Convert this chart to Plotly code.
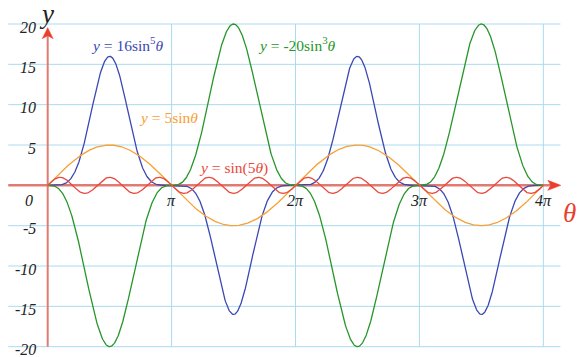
import numpy as np
import plotly.graph_objects as go

# ---- data: the four plotted functions y = A * sin(f*theta)^p ----
series_names = ["16sin5", "-20sin3", "5sin", "sin5"]
amplitudes = [16, -20, 5, 1]
powers = [5, 3, 1, 1]
frequencies = [1, 1, 1, 5]
colors = ["#3a48b4", "#27962a", "#f7a035", "#e8483c"]
label_texts = [
    "<i>y</i> = 16sin<sup>5</sup><i>θ</i>",
    "<i>y</i> = -20sin<sup>3</sup><i>θ</i>",
    "<i>y</i> = 5sin<i>θ</i>",
    "<i>y</i> = sin(5<i>θ</i>)",
]
label_x = [2.01, 6.32, 3.05, 4.72]
label_y = [17.5, 17.5, 8.4, 2.1]

y_ticks = [20, 15, 10, 5, -5, -10, -15, -20]
x_ticks = [np.pi, 2 * np.pi, 3 * np.pi, 4 * np.pi]
x_tick_labels = ["π", "2π", "3π", "4π"]

theta = np.linspace(0, 4 * np.pi, 1200)

fig = go.Figure()

GRID = "#a9dbee"
AXIS = "#e07a72"
ARROW = "#ea3f2b"
SERIF = "Liberation Serif, Times New Roman, serif"

shapes = []
# horizontal grid lines
for v in y_ticks:
    shapes.append(dict(type="line", xref="x", yref="y", x0=-1.0, x1=13.0, y0=v, y1=v,
                       line=dict(color=GRID, width=1), layer="below"))
# vertical grid lines
for v in x_ticks:
    shapes.append(dict(type="line", xref="x", yref="y", x0=v, x1=v, y0=-20, y1=20,
                       line=dict(color=GRID, width=1), layer="below"))
# axes
shapes.append(dict(type="line", xref="x", yref="y", x0=-1.0, x1=12.85, y0=0, y1=0,
                   line=dict(color=AXIS, width=2.5), layer="below"))
shapes.append(dict(type="line", xref="x", yref="y", x0=0, x1=0, y0=-20, y1=19.0,
                   line=dict(color=AXIS, width=2), layer="below"))
# arrow heads
shapes.append(dict(type="path", xref="x", yref="y", xsizemode="pixel", ysizemode="pixel",
                   xanchor=13.01, yanchor=0,
                   path="M0,0 L-13,5 L-10,0 L-13,-5 Z",
                   fillcolor=ARROW, line=dict(color=ARROW, width=0.5)))
shapes.append(dict(type="path", xref="x", yref="y", xsizemode="pixel", ysizemode="pixel",
                   xanchor=0, yanchor=19.55,
                   path="M0,0 L5.5,-11 L0,-8 L-5.5,-11 Z",
                   fillcolor=ARROW, line=dict(color=ARROW, width=0.5)))

for i in range(len(series_names)):
    y = amplitudes[i] * np.sin(frequencies[i] * theta) ** powers[i]
    fig.add_trace(go.Scatter(x=theta, y=y, mode="lines", name=series_names[i],
                             line=dict(color=colors[i], width=1.3),
                             cliponaxis=False, hoverinfo="skip"))

annotations = []
for v in y_ticks:
    annotations.append(dict(x=-0.24, y=v, xref="x", yref="y", text=f"<i>{v}</i>",
                            showarrow=False, xanchor="right", yanchor="middle", yshift=-3,
                            font=dict(family=SERIF, size=16, color="#222222")))
annotations.append(dict(x=-0.47, y=-1.9, xref="x", yref="y", text="<i>0</i>",
                        showarrow=False, xanchor="center", yanchor="middle",
                        font=dict(family=SERIF, size=16, color="#222222")))
for v, t in zip(x_ticks, x_tick_labels):
    annotations.append(dict(x=v, y=-1.9, xref="x", yref="y", text=f"<i>{t}</i>",
                            showarrow=False, xanchor="center", yanchor="middle",
                            font=dict(family=SERIF, size=16, color="#222222")))
annotations.append(dict(x=-0.02, y=21.3, xref="x", yref="y", text="<i>y</i>",
                        showarrow=False, xanchor="center", yanchor="middle",
                        font=dict(family=SERIF, size=27, color="#222222")))
annotations.append(dict(x=13.24, y=-3.4, xref="x", yref="y", text="<i>θ</i>",
                        showarrow=False, xanchor="center", yanchor="middle",
                        font=dict(family=SERIF, size=27, color=ARROW)))
for i in range(len(series_names)):
    annotations.append(dict(x=label_x[i], y=label_y[i], xref="x", yref="y", text=label_texts[i],
                            showarrow=False, xanchor="center", yanchor="middle",
                            font=dict(family=SERIF, size=15.5, color=colors[i])))

fig.update_layout(
    width=577, height=357,
    margin=dict(l=0, r=0, t=0, b=0),
    paper_bgcolor="white", plot_bgcolor="white",
    showlegend=False,
    xaxis=dict(range=[-1.2094, 13.42], visible=False, fixedrange=True),
    yaxis=dict(range=[-21.277, 22.975], visible=False, fixedrange=True),
    shapes=shapes,
    annotations=annotations,
)

fig.write_html("out.html", config={"displayModeBar": False},
               post_script="document.body.style.margin='0';document.body.style.overflow='hidden';")
